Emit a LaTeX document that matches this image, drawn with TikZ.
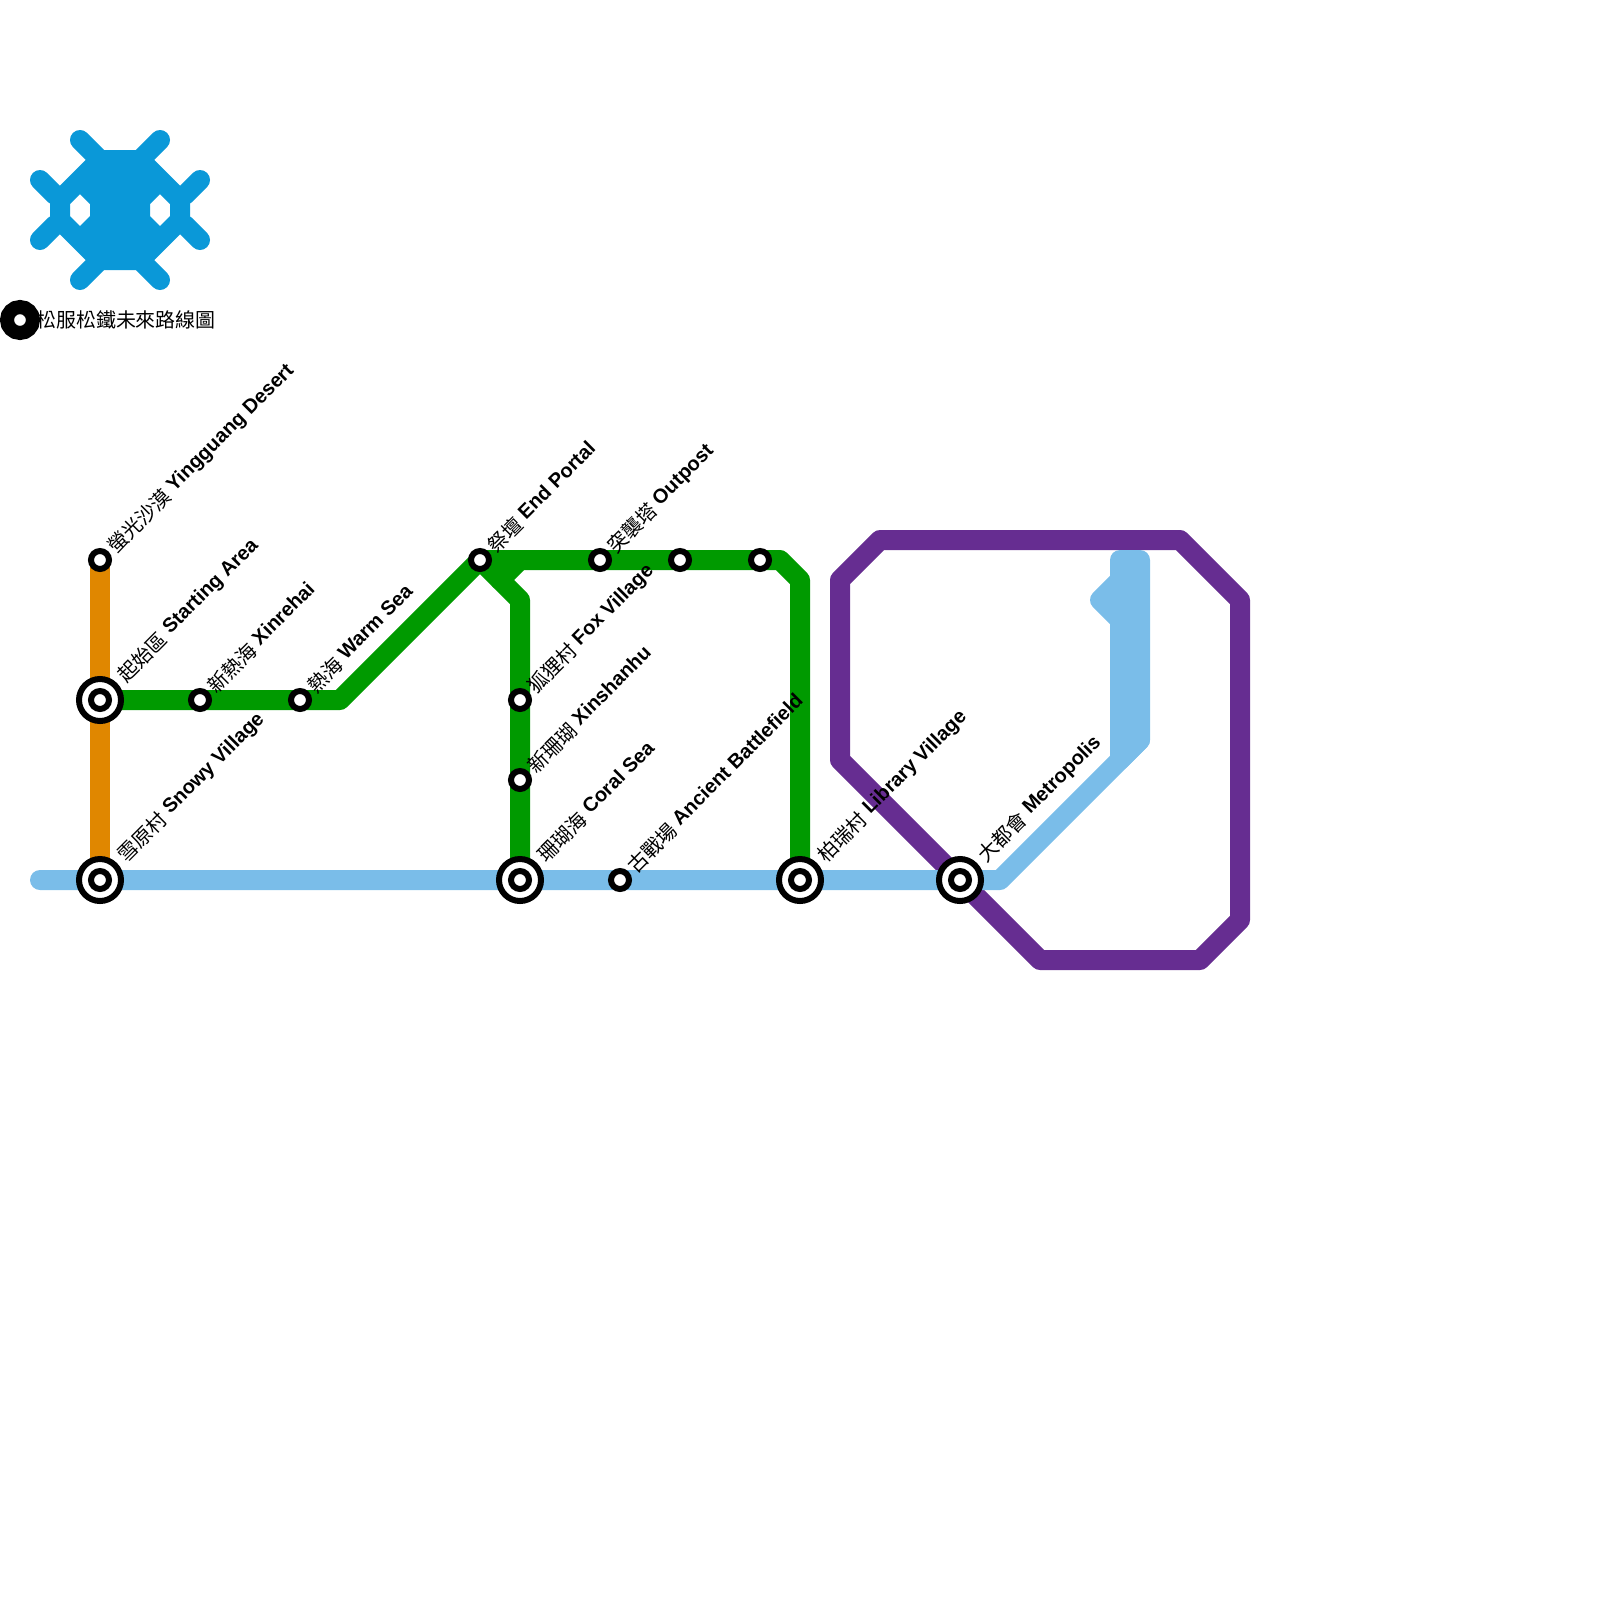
\documentclass[tikz,border=0pt]{standalone}
\usepackage{fontspec}
\setmainfont{Liberation Sans}
\newfontfamily\cjk{Noto Sans CJK TC}
\definecolor{lineorange}{HTML}{E08700}
\definecolor{linegreen}{HTML}{009A00}
\definecolor{lineblue}{HTML}{7ABDE9}
\definecolor{linepurple}{HTML}{662D91}
\definecolor{logoblue}{HTML}{0A98D8}
\tikzset{
  metro/.style={line width=0.25cm, line join=round, line cap=round},
  stop/.style={circle, draw=black, fill=white, line width=0.075cm, inner sep=0pt, outer sep=0pt, minimum size=0.225cm},
  hub/.style={circle, draw=black, fill=white, line width=0.075cm, inner sep=0pt, outer sep=0pt, minimum size=0.525cm},
  stoplabel/.style={xshift=0.169cm, yshift=0.089cm, rotate=45, anchor=base west, inner sep=0pt, font=\fontsize{7.1}{8}\selectfont},
  hublabel/.style={xshift=0.127cm, yshift=0.141cm, stoplabel}
}
\begin{document}
\begin{tikzpicture}[x=0.25cm, y=-0.25cm]
  \useasboundingbox (0,0) rectangle (80,80);

  % Logo
  \fill[logoblue, even odd rule]
    (4.785,7.5) -- (7.215,7.5) -- (9.5,9.785) -- (9.5,11.215) -- (7.215,13.5) -- (4.785,13.5) -- (2.5,11.215) -- (2.5,9.785) -- cycle
    (3.5,10.2) -- (4,9.7) -- (4.5,10.2) -- (4.5,10.8) -- (4,11.3) -- (3.5,10.8) -- cycle
    (7.5,10.2) -- (8,9.7) -- (8.5,10.2) -- (8.5,10.8) -- (8,11.3) -- (7.5,10.8) -- cycle;
  \foreach \xa/\ya/\xb/\yb in {4/7/5/8, 8/7/7/8, 2/9/2.75/9.75, 10/9/9.25/9.75,
                               2/12/2.75/11.25, 10/12/9.25/11.25, 4/14/5/13, 8/14/7/13}
    \draw[logoblue, line width=0.25cm, line cap=round] (\xa,\ya) -- (\xb,\yb);

  % Title
  \node[anchor=west, inner sep=0pt, font=\cjk\fontsize{7.1}{8}\selectfont] (title) at (1.78,16) {松服松鐵未來路線圖};
  \node[circle, draw=black, fill=white, line width=0.175cm, inner sep=0pt, outer sep=0pt, minimum size=0.325cm] (titlestop) at (1,16) {};

  % Stations and bends
  \foreach \name/\x/\y in {yingguang/5/28, starting/5/35, snowy/5/44, xinrehai/10/35, warmsea/15/35,
                           endportal/24/28, outpost/30/28, upperA/34/28, upperB/38/28,
                           fox/26/35, xinshanhu/26/39, coral/26/44, ancient/31/44, library/40/44,
                           metropolis/48/44, blueW/2/44, blueE/50/44, blueA/57/37, blueB/57/28,
                           blueC/56/28, blueD/56/29, blueE2/55/30, blueF/56/31, blueG/56/38,
                           greenA/17/35, greenB/26/30, greenC/25/29, greenD/26/28,
                           greenE/39/28, greenF/40/29,
                           purpleA/42/29, purpleB/44/27, purpleC/59/27, purpleD/62/30, purpleE/62/46,
                           purpleF/60/48, purpleG/52/48, purpleH/42/38}
    \coordinate (\name) at (\x,\y);

  % Lines
  \draw[metro, linepurple] (purpleA) -- (purpleB) -- (purpleC) -- (purpleD) -- (purpleE) -- (purpleF) -- (purpleG) -- (purpleH) -- cycle;
  \draw[metro, lineblue] (blueW) -- (blueE) -- (blueA);
  \draw[metro, lineblue, fill=lineblue] (blueA) -- (blueB) -- (blueC) -- (blueD) -- (blueE2) -- (blueF) -- (blueG) -- cycle;
  \draw[metro, lineorange] (yingguang) -- (snowy);
  \draw[metro, linegreen] (starting) -- (greenA) -- (endportal) -- (greenB) -- (coral);
  \draw[metro, linegreen] (endportal) -- (greenE) -- (greenF) -- (library);
  \draw[metro, linegreen] (greenC) -- (greenD);

  % Station markers
  \foreach \name in {starting, snowy, coral, library, metropolis}
    \node[hub] (\name ring) at (\name) {};
  \foreach \name in {yingguang, starting, snowy, xinrehai, warmsea, endportal, outpost, upperA, upperB,
                     fox, xinshanhu, coral, ancient, library, metropolis}
    \node[stop] (\name mark) at (\name) {};

  % Station labels
  \foreach \name/\zh/\en in {yingguang/螢光沙漠/Yingguang Desert, xinrehai/新熱海/Xinrehai, warmsea/熱海/Warm Sea,
                             endportal/祭壇/End Portal, outpost/突襲塔/Outpost, fox/狐狸村/Fox Village,
                             xinshanhu/新珊瑚/Xinshanhu, ancient/古戰場/Ancient Battlefield}
    \node[stoplabel] (\name label) at (\name) {\raisebox{-0.04cm}{\cjk\zh} \textbf{\en}};
  \foreach \name/\zh/\en in {starting/起始區/Starting Area, snowy/雪原村/Snowy Village, coral/珊瑚海/Coral Sea,
                             library/柏瑞村/Library Village, metropolis/大都會/Metropolis}
    \node[hublabel] (\name label) at (\name) {\raisebox{-0.04cm}{\cjk\zh} \textbf{\en}};
\end{tikzpicture}
\end{document}
